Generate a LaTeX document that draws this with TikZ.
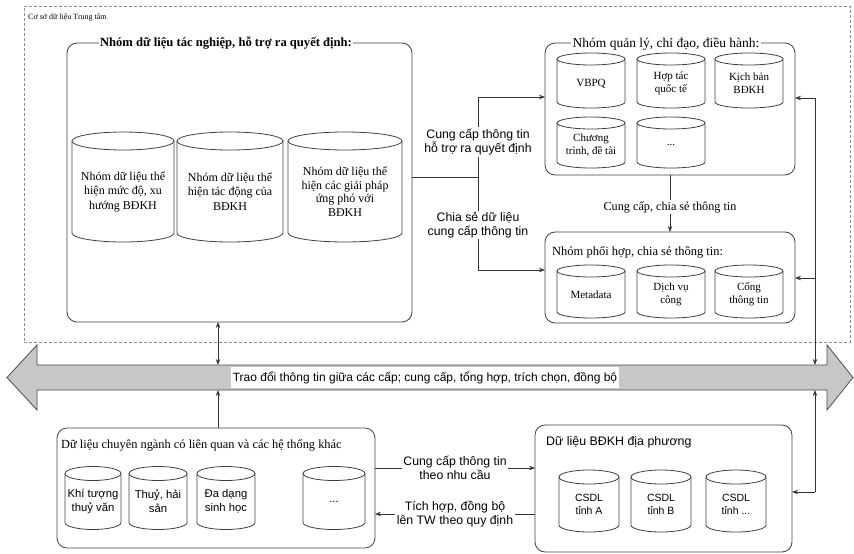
\documentclass[tikz,border=0pt]{standalone}
\usepackage{fontspec}
\setmainfont{Liberation Serif}
\newfontfamily\sansf{Liberation Sans}
\usetikzlibrary{arrows.meta}
\tikzset{
  frame/.style={draw=black!75, line width=0.8pt, rounded corners=10pt, inner sep=0pt, outer sep=0pt},
  outerbox/.style={draw=black!45, line width=0.6pt, dash pattern=on 3pt off 2pt, inner sep=0pt, outer sep=0pt},
  cylbox/.style={inner sep=0pt, outer sep=0pt},
  cylline/.style={draw=black!75, line width=0.8pt},
  cyltxt/.style={inner sep=0pt, outer sep=0pt, align=center},
  conn/.style={draw=black!80, line width=0.8pt},
  lbl/.style={fill=white, inner sep=1.5pt, align=center, font=\sansf\fontsize{12.3}{14}\selectfont},
  bigcyl/.style={font=\fontsize{12}{14.5}\selectfont},
  bigcylb/.style={font=\fontsize{12}{13.5}\selectfont},
  smallcyl/.style={font=\fontsize{11}{13}\selectfont},
  sanscyl/.style={font=\sansf\fontsize{11.3}{13.5}\selectfont},
  sanscylb/.style={font=\sansf\fontsize{10.5}{13}\selectfont},
  bandst/.style={draw=black!70, line width=0.8pt, fill=black!22},
}
\newcommand\dbcyl[8]{%
  \path (#3,#4) node[cylbox, minimum width=#5pt, minimum height=#6pt] (#2) {};
  \draw[cylline] ([yshift=-#7pt]#2.north west) -- ([yshift=#7pt]#2.south west)
     arc[start angle=180, end angle=360, x radius=#5pt/2, y radius=#7pt]
     -- ([yshift=-#7pt]#2.north east);
  \draw[cylline] ([yshift=-#7pt]#2.north) ellipse[x radius=#5pt/2, y radius=#7pt];
  \node[cyltxt,#1] (#2t) at ([yshift=-#7pt/2]#2.center) {#8};
}
\begin{document}
\begin{tikzpicture}[x=1pt, y=-1pt, >={Stealth[length=6pt,width=4.5pt]}]
\useasboundingbox (0,0) rectangle (854,554);

% outer central database frame
\node[outerbox, minimum width=826pt, minimum height=336pt, anchor=north west] (csdl) at (24,6) {};
\node[anchor=west, inner sep=0pt, font=\fontsize{8}{9}\selectfont] (csdlt) at (28,18) {Cơ sở dữ liệu Trung tâm};

% boxes
\node[frame, minimum width=345pt, minimum height=279pt, anchor=north west] (lb) at (67,43) {};
\node[frame, minimum width=250pt, minimum height=132pt, anchor=north west] (trb) at (545,43) {};
\node[frame, minimum width=250pt, minimum height=91pt, anchor=north west] (phb) at (545,232) {};
\node[frame, minimum width=318pt, minimum height=120pt, anchor=north west] (blb) at (57,428) {};
\node[frame, minimum width=257pt, minimum height=127pt, anchor=north west] (brb) at (535,425) {};

% titles
\node[fill=white, inner sep=1.5pt, font=\bfseries\fontsize{12.6}{14}\selectfont] (lbt) at (226,43) {Nhóm dữ liệu tác nghiệp, hỗ trợ ra quyết định:};
\node[fill=white, inner sep=1.5pt, font=\fontsize{13.5}{15}\selectfont] (trbt) at (666,44) {Nhóm quản lý, chỉ đạo, điều hành:};
\node[anchor=west, inner sep=0pt, font=\fontsize{12.5}{14}\selectfont] (phbt) at (552,252) {Nhóm phối hợp, chia sẻ thông tin:};
\node[anchor=west, inner sep=0pt, font=\fontsize{12.4}{14}\selectfont] (blbt) at (61,445) {Dữ liệu chuyên ngành có liên quan và các hệ thống khác};
\node[anchor=west, inner sep=0pt, font=\sansf\fontsize{12.4}{14}\selectfont] (brbt) at (546,442) {Dữ liệu BĐKH địa phương};

% cylinders: left group
\dbcyl{bigcyl}{c1}{123}{187}{102}{110}{9}{Nhóm dữ liệu thể\\hiện mức độ, xu\\hướng BĐKH}
\dbcyl{bigcyl}{c2}{230}{187}{106}{110}{9}{Nhóm dữ liệu thể\\hiện tác động của\\BĐKH}
\dbcyl{bigcylb}{c3}{345}{187}{114}{110}{9}{Nhóm dữ liệu thể\\hiện các giải pháp\\ứng phó với\\BĐKH}

% top-right group
\dbcyl{smallcyl}{q1}{591}{80.5}{68}{55}{6}{VBPQ}
\dbcyl{smallcyl}{q2}{671}{80.5}{68}{55}{6}{Hợp tác\\quốc tế}
\dbcyl{smallcyl}{q3}{749}{80.5}{68}{55}{6}{Kịch bản\\BĐKH}
\dbcyl{smallcyl}{q4}{591}{142.5}{68}{51}{6}{Chương\\trình, đề tài}
\dbcyl{smallcyl}{q5}{671}{142.5}{68}{51}{6}{...}

% coordination group
\dbcyl{smallcyl}{p1}{591}{291.5}{68}{53}{6}{Metadata}
\dbcyl{smallcyl}{p2}{671}{291.5}{68}{53}{6}{Dịch vụ\\công}
\dbcyl{smallcyl}{p3}{749}{291.5}{68}{53}{6}{Cổng\\thông tin}

% bottom-left group
\dbcyl{sanscyl}{s1}{93}{498}{56}{63}{7}{Khí tượng\\thuỷ văn}
\dbcyl{sanscyl}{s2}{158}{498}{58}{63}{7}{Thuỷ, hải\\sản}
\dbcyl{sanscyl}{s3}{226}{498}{58}{63}{7}{Đa dạng\\sinh học}
\dbcyl{sanscyl}{s4}{334}{498}{62}{63}{7}{...}

% bottom-right group
\dbcyl{sanscylb}{d1}{589}{501}{60}{62}{7}{CSDL\\tỉnh A}
\dbcyl{sanscylb}{d2}{661}{501}{60}{62}{7}{CSDL\\tỉnh B}
\dbcyl{sanscylb}{d3}{736}{501}{60}{62}{7}{CSDL\\tỉnh ...}

% exchange band
\draw[bandst] (7,377.5) -- (37,345) -- (37,365) -- (827,365) -- (827,345) -- (853,377.5)
   -- (827,410) -- (827,390) -- (37,390) -- (37,410) -- cycle;
\node[fill=white, inner sep=2pt, minimum height=21pt, font=\sansf\fontsize{12}{13}\selectfont] (bandt) at (425,377.5)
   {Trao đổi thông tin giữa các cấp; cung cấp, tổng hợp, trích chọn, đồng bộ};

% junction coordinates
\coordinate (m0) at (478,177);
\coordinate (m1) at (478,97);
\coordinate (m2) at (478,270);
\coordinate (v1) at (670,207);
\coordinate (b1t) at (218,365);
\coordinate (b1b) at (218,390);
\coordinate (b2t) at (815,365);
\coordinate (b2b) at (815,390);
\coordinate (r1) at (815,98);
\coordinate (r2) at (815,278);
\coordinate (r3) at (815,492);
\coordinate (h1) at (455,468);
\coordinate (h2) at (455,514);

% middle connectors
\draw[conn] (lb.east |- m0) -- (m0);
\draw[conn] (m1) -- (m2);
\draw[conn,->] (m1) -- (trb.west |- m1);
\draw[conn,->] (m2) -- (phb.west |- m2);
\node[lbl] (l1) at (478,142) {Cung cấp thông tin\\hỗ trợ ra quyết định};
\node[lbl] (l2) at (478,225) {Chia sẻ dữ liệu\\cung cấp thông tin};

% vertical between right groups
\draw[conn,->] (trb.south -| v1) -- (phb.north -| v1);
\node[fill=white, inner sep=1.5pt, font=\fontsize{12.2}{13}\selectfont] (l3) at (v1) {Cung cấp, chia sẻ thông tin};

% right side connector
\draw[conn] (r1) -- (r2);
\draw[conn,->] (r1) -- (trb.east |- r1);
\draw[conn,->] (r2) -- (phb.east |- r2);
\draw[conn,->] (r2) -- (b2t);
\draw[conn,<-] (b2b) -- (r3);
\draw[conn,->] (r3) -- (brb.east |- r3);

% left connectors to band
\draw[conn,<->] (lb.south -| b1t) -- (b1t);
\draw[conn,<-] (b1b) -- (blb.north -| b1b);

% bottom connectors
\draw[conn,->] (blb.east |- h1) -- (brb.west |- h1);
\draw[conn,<-] (blb.east |- h2) -- (brb.west |- h2);
\node[lbl] (l4) at (h1) {Cung cấp thông tin\\theo nhu cầu};
\node[lbl] (l5) at (h2) {Tích hợp, đồng bộ\\lên TW theo quy định};
\end{tikzpicture}
\end{document}
